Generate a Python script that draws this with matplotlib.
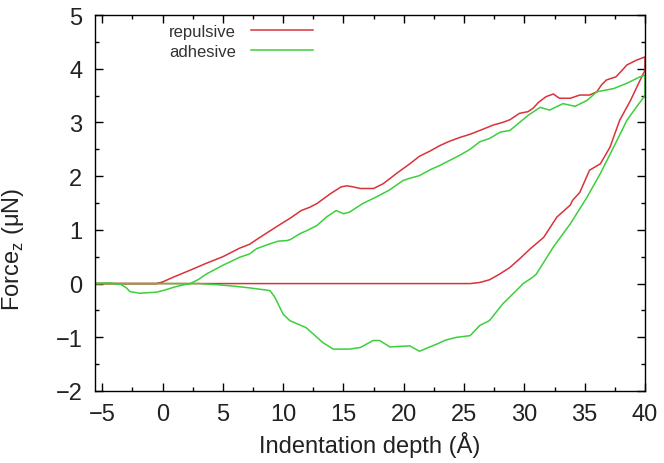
import matplotlib
matplotlib.use("Agg")
import matplotlib.pyplot as plt
from matplotlib.ticker import MultipleLocator
from matplotlib.lines import Line2D

plt.rcParams['font.family'] = ['Liberation Sans', 'DejaVu Sans']
plt.rcParams['mathtext.fontset'] = 'custom'
plt.rcParams['mathtext.rm'] = 'Liberation Sans'

# repulsive: loading then unloading
rep_load_x = [-5.6, -3, -1, -0.5, 0, 0.9, 2.3, 3.65, 5.0, 6.4, 7.2, 7.8, 8.9, 9.6, 10.6, 11.5, 12.2,
              12.8, 13.9, 14.8, 15.3, 15.8, 16.4, 17.5, 18.3, 19.4, 20.5, 21.3, 22.2, 23.0, 23.8,
              24.65, 25.5, 26.3, 27.4, 28.2, 28.8, 29.6, 30.3, 30.7, 31.2, 31.8, 32.4, 32.9, 33.8,
              34.6, 35.4, 36.0, 36.4, 36.8, 37.6, 38.1, 38.5, 39.3, 40.0]
rep_load_y = [0, 0, 0, 0.0, 0.03, 0.12, 0.25, 0.38, 0.5, 0.66, 0.73, 0.82, 0.98, 1.08, 1.22, 1.36, 1.42,
              1.49, 1.67, 1.80, 1.82, 1.80, 1.77, 1.77, 1.86, 2.05, 2.23, 2.37, 2.47, 2.57, 2.65,
              2.72, 2.78, 2.85, 2.95, 3.0, 3.05, 3.17, 3.2, 3.26, 3.38, 3.48, 3.53, 3.45, 3.45,
              3.51, 3.51, 3.57, 3.70, 3.79, 3.85, 3.97, 4.07, 4.16, 4.22]
rep_unl_x = [40.0, 39.6, 38.8, 37.9, 37.1, 36.3, 35.4, 34.6, 34.0, 33.8, 32.7, 31.6, 30.5, 29.6,
             28.8, 27.9, 27.1, 26.3, 25.5, -5.6]
rep_unl_y = [3.97, 3.79, 3.41, 3.04, 2.54, 2.23, 2.11, 1.70, 1.55, 1.46, 1.24, 0.86, 0.65, 0.46,
             0.30, 0.17, 0.07, 0.02, 0.0, 0.0]

# adhesive: loading then unloading
adh_load_x = [-5.6, -4.5, -3.5, -3.0, -2.7, -1.9, -0.5, 0.2, 0.9, 1.6, 2.3, 3.0, 3.65, 5.0, 6.4,
              7.2, 7.8, 8.9, 9.6, 10.3, 10.6, 11.4, 11.9, 12.8, 13.6, 14.4, 15.0, 15.5, 16.6,
              17.7, 18.8, 19.95, 20.5, 21.3, 22.2, 23.0, 24.65, 25.5, 26.3, 27.1, 28.0, 28.8,
              29.6, 30.3, 31.3, 32.1, 33.2, 34.2, 35.2, 36.0, 37.4, 38.5, 39.6, 40.0]
adh_load_y = [0, 0.01, -0.01, -0.08, -0.15, -0.18, -0.16, -0.12, -0.07, -0.03, 0.0, 0.08, 0.18, 0.34,
              0.49, 0.55, 0.65, 0.74, 0.79, 0.80, 0.82, 0.93, 0.98, 1.08, 1.24, 1.36, 1.30, 1.33,
              1.49, 1.61, 1.74, 1.92, 1.96, 2.01, 2.12, 2.2, 2.39, 2.5, 2.64, 2.70, 2.82, 2.85,
              3.0, 3.13, 3.28, 3.23, 3.35, 3.30, 3.41, 3.57, 3.63, 3.73, 3.85, 3.88]
adh_unl_x = [40.0, 40.0, 39.6, 39.3, 38.5, 37.4, 36.3, 35.2, 33.8, 32.4, 31.0, 30.7, 29.9, 29.6,
             28.2, 27.1, 26.3, 25.5, 24.4, 23.5, 22.7, 21.3, 20.5, 19.6, 18.85, 18.0, 17.46,
             16.4, 15.5, 14.15, 13.3, 12.2, 11.9, 10.55, 10.0, 9.3, 8.9, 7.2, 6.0, 4.5, 3.0, -5.6]
adh_unl_y = [3.88, 3.5, 3.38, 3.29, 3.04, 2.54, 2.05, 1.61, 1.11, 0.68, 0.18, 0.12, 0.0, -0.07,
             -0.38, -0.69, -0.78, -0.97, -1.0, -1.05, -1.13, -1.26, -1.16, -1.17, -1.18, -1.06,
             -1.06, -1.19, -1.22, -1.22, -1.1, -0.88, -0.82, -0.69, -0.57, -0.25, -0.13, -0.08,
             -0.05, -0.02, 0.0, 0.0]

labels = ["repulsive", "adhesive"]
red = "#d8333b"
green = "#3ccf3c"

fig = plt.figure(figsize=(6.64, 4.64), dpi=100)
ax = fig.add_axes([95/664, 72/464, 550/664, 376/464])

ax.plot(rep_load_x + rep_unl_x, rep_load_y + rep_unl_y, color=red, lw=1.1)
ax.plot(adh_load_x + adh_unl_x, adh_load_y + adh_unl_y, color=green, lw=1.1)

ax.set_xlim(-5.6, 40)
ax.set_ylim(-2, 5)
ax.xaxis.set_major_locator(MultipleLocator(5))
ax.xaxis.set_minor_locator(MultipleLocator(2.5))
ax.yaxis.set_major_locator(MultipleLocator(1))
ax.yaxis.set_minor_locator(MultipleLocator(0.5))
ax.tick_params(which='both', direction='in', top=True, right=True, labelsize=17, width=1.0,
               labelcolor='#222222')
ax.tick_params(which='major', length=6, pad=9)
ax.tick_params(which='minor', length=3)
for s in ax.spines.values():
    s.set_linewidth(1.0)

ax.set_xlabel("Indentation depth (Å)", fontsize=17, labelpad=4, color='#222222')
ax.set_ylabel(r"Force$_\mathrm{z}$ (μN)", fontsize=17, color='#222222')
ax.yaxis.set_label_coords(-0.125, 0.378)

handles = [Line2D([], [], color=red, lw=1.1), Line2D([], [], color=green, lw=1.1)]
leg = ax.legend(handles, labels, markerfirst=False, frameon=False, fontsize=12,
                handlelength=3.7, handletextpad=0.9, labelspacing=0.3,
                borderpad=0, borderaxespad=0, loc='upper left',
                bbox_to_anchor=((169-95)/550, (392-25)/376))
for t in leg.get_texts():
    t.set_color('#333333')

fig.savefig("out.png", dpi=100)
